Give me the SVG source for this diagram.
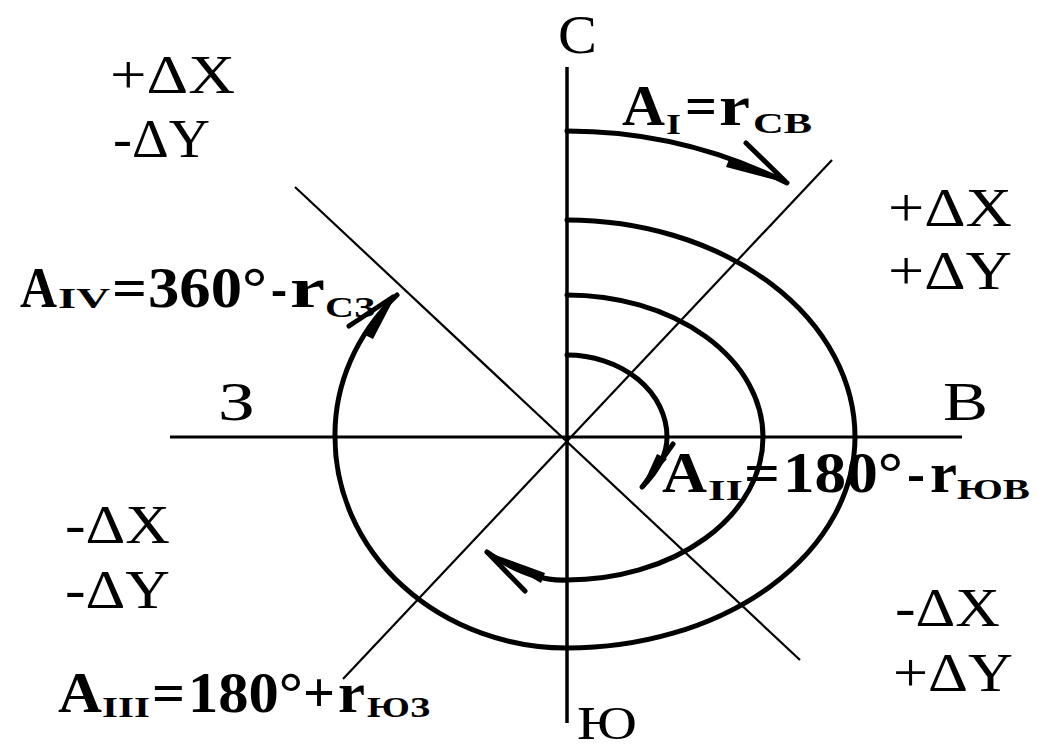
<svg xmlns="http://www.w3.org/2000/svg" width="1039" height="751" viewBox="0 0 1039 751">
<style>
.ax{stroke:#000;fill:none}
.sp{stroke:#000;stroke-width:5;fill:none;stroke-linecap:round}
.barb{stroke:#000;stroke-width:5;stroke-linecap:round}
.t{font-family:"Liberation Serif","Times New Roman",serif;fill:#000}
.r{font-size:54px}
.b{font-weight:bold;font-size:56px}
.s{font-weight:bold;font-size:29px}
</style>
<rect width="1039" height="751" fill="#fff"/>
<g id="connectors">
  <line class="ax" x1="567" y1="67" x2="567" y2="723" stroke-width="3.5"/>
  <line class="ax" x1="170" y1="437" x2="962" y2="437" stroke-width="3"/>
  <line class="ax" x1="832" y1="160" x2="343" y2="679" stroke-width="2.2"/>
  <line class="ax" x1="295" y1="187" x2="800" y2="660" stroke-width="2.2"/>
  <!-- A_I arc -->
  <path class="sp" d="M567,131 A491,491 0 0 1 787,183"/>
  <polygon points="787,183 730,157 726,167"/>
  <line class="barb" x1="746" y1="143" x2="785" y2="181"/>
  <!-- A_IV spiral -->
  <path class="sp" d="M567,220 A288,217 0 0 1 855,437 A288,211 0 0 1 567,648 A232,211 0 0 1 335,437 A232,205 0 0 1 397,295"/>
  <polygon points="397,293 363,334 373,339"/>
  <line class="barb" x1="349" y1="326" x2="393" y2="297"/>
  <!-- A_III spiral -->
  <path class="sp" d="M567,295 A196,142 0 0 1 763,437 A196,143 0 0 1 567,580 Q530,582 487,552"/>
  <polygon points="487,552 545,573 541,583"/>
  <line class="barb" x1="488" y1="553" x2="525" y2="591"/>
  <!-- A_II spiral -->
  <path class="sp" d="M567,355 A100,82 0 0 1 667,437 Q667,462 642,487"/>
  <polygon points="642,487 657,454 667,459"/>
  <line class="barb" x1="643" y1="486" x2="673" y2="444"/>
</g>
<g id="dir-N"><text class="t r" x="558" y="53" textLength="39" lengthAdjust="spacingAndGlyphs">С</text></g>
<g id="dir-E"><text class="t r" x="943" y="420" textLength="45" lengthAdjust="spacingAndGlyphs">В</text></g>
<g id="dir-W"><text class="t r" x="218" y="420" textLength="37" lengthAdjust="spacingAndGlyphs">З</text></g>
<g id="dir-S"><text class="t" x="577" y="739" font-size="47" textLength="60" lengthAdjust="spacingAndGlyphs">Ю</text></g>
<g id="q-NW">
  <text class="t r" x="110" y="93" textLength="125" lengthAdjust="spacingAndGlyphs">+ΔX</text>
  <text class="t r" x="113" y="157" textLength="97" lengthAdjust="spacingAndGlyphs">-ΔY</text>
</g>
<g id="q-NE">
  <text class="t r" x="888" y="226" textLength="124" lengthAdjust="spacingAndGlyphs">+ΔX</text>
  <text class="t r" x="888" y="289" textLength="124" lengthAdjust="spacingAndGlyphs">+ΔY</text>
</g>
<g id="q-SE">
  <text class="t r" x="895" y="626" textLength="105" lengthAdjust="spacingAndGlyphs">-ΔX</text>
  <text class="t r" x="893" y="691" textLength="120" lengthAdjust="spacingAndGlyphs">+ΔY</text>
</g>
<g id="q-SW">
  <text class="t r" x="65" y="543" textLength="105" lengthAdjust="spacingAndGlyphs">-ΔX</text>
  <text class="t r" x="65" y="608" textLength="105" lengthAdjust="spacingAndGlyphs">-ΔY</text>
</g>
<g id="label-AI">
  <text class="t b" x="622" y="125" font-size="54" textLength="43" lengthAdjust="spacingAndGlyphs">A</text>
  <text class="t s" x="666" y="134" textLength="15" lengthAdjust="spacingAndGlyphs">I</text>
  <text class="t b" x="685" y="125" font-size="54" textLength="32" lengthAdjust="spacingAndGlyphs">=</text>
  <text class="t b" x="719" y="125" font-size="54" textLength="31" lengthAdjust="spacingAndGlyphs">r</text>
  <text class="t s" x="753" y="133" textLength="59" lengthAdjust="spacingAndGlyphs">СВ</text>
</g>
<g id="label-AIV">
  <text class="t b" x="20" y="307" textLength="37" lengthAdjust="spacingAndGlyphs">A</text>
  <text class="t s" x="58" y="308" textLength="52" lengthAdjust="spacingAndGlyphs">IV</text>
  <text class="t b" x="112" y="307" textLength="35" lengthAdjust="spacingAndGlyphs">=</text>
  <text class="t b" x="148" y="307" textLength="119" lengthAdjust="spacingAndGlyphs">360°</text>
  <text class="t b" x="271" y="307" textLength="16" lengthAdjust="spacingAndGlyphs">-</text>
  <text class="t b" x="290" y="307" textLength="35" lengthAdjust="spacingAndGlyphs">r</text>
  <text class="t s" x="325" y="317" textLength="50" lengthAdjust="spacingAndGlyphs">СЗ</text>
</g>
<g id="label-AII">
  <text class="t b" x="662" y="492" textLength="45" lengthAdjust="spacingAndGlyphs">A</text>
  <text class="t s" x="708" y="500" textLength="35" lengthAdjust="spacingAndGlyphs">II</text>
  <text class="t b" x="744" y="492" textLength="36" lengthAdjust="spacingAndGlyphs">=</text>
  <text class="t b" x="783" y="492" textLength="120" lengthAdjust="spacingAndGlyphs">180°</text>
  <text class="t b" x="907" y="492" textLength="18" lengthAdjust="spacingAndGlyphs">-</text>
  <text class="t b" x="930" y="492" textLength="27" lengthAdjust="spacingAndGlyphs">r</text>
  <text class="t s" x="957" y="499" textLength="73" lengthAdjust="spacingAndGlyphs">ЮВ</text>
</g>
<g id="label-AIII">
  <text class="t b" x="58" y="712" textLength="44" lengthAdjust="spacingAndGlyphs">A</text>
  <text class="t s" x="102" y="717" textLength="48" lengthAdjust="spacingAndGlyphs">III</text>
  <text class="t b" x="152" y="712" textLength="33" lengthAdjust="spacingAndGlyphs">=</text>
  <text class="t b" x="188" y="712" textLength="115" lengthAdjust="spacingAndGlyphs">180°</text>
  <text class="t b" x="303" y="712" textLength="32" lengthAdjust="spacingAndGlyphs">+</text>
  <text class="t b" x="338" y="712" textLength="27" lengthAdjust="spacingAndGlyphs">r</text>
  <text class="t s" x="367" y="717" textLength="63" lengthAdjust="spacingAndGlyphs">ЮЗ</text>
</g>
</svg>
